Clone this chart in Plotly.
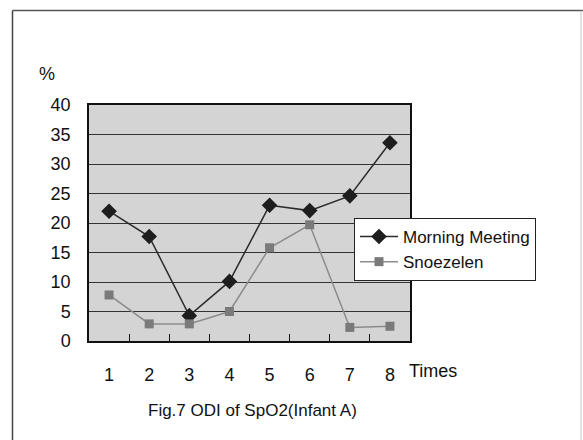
import plotly.graph_objects as go

times = [1, 2, 3, 4, 5, 6, 7, 8]
morning_meeting = [22.0, 17.7, 4.3, 10.1, 23.0, 22.1, 24.6, 33.6]
snoezelen = [7.8, 2.9, 2.9, 5.0, 15.8, 19.7, 2.3, 2.5]
y_ticks = [0, 5, 10, 15, 20, 25, 30, 35, 40]

FONT = "Liberation Sans, Arial, sans-serif"
W, H = 583, 440
ML, MT, MB = 89, 105, 99
PW = W - ML            # paper width in px
PH = H - MT - MB       # paper height in px
PLOT_RIGHT = 410       # right edge of the plotting area in px


def px(xp):
    return (xp - ML) / PW


def py(yp):
    return (H - MB - yp) / PH


fig = go.Figure()
fig.add_trace(go.Scatter(
    x=times, y=morning_meeting, name="Morning Meeting", mode="lines+markers",
    line=dict(color="#2b2b2b", width=1.5),
    marker=dict(symbol="diamond", size=12, color="#1e1e1e"),
))
fig.add_trace(go.Scatter(
    x=times, y=snoezelen, name="Snoezelen", mode="lines+markers",
    line=dict(color="#8c8c8c", width=1.5),
    marker=dict(symbol="square", size=9, color="#7a7a7a"),
))
# invisible trace carrying the category-boundary tick marks
fig.add_trace(go.Scatter(x=[1.5], y=[None], xaxis="x2", showlegend=False, hoverinfo="skip"))

dom = [0, px(PLOT_RIGHT)]

fig.update_layout(
    width=W, height=H,
    margin=dict(l=ML, r=0, t=MT, b=MB),
    paper_bgcolor="white",
    plot_bgcolor="#d4d4d4",
    font=dict(family=FONT, size=18, color="#111"),
    showlegend=True,
    legend=dict(
        x=px(354), y=py(218), xanchor="left", yanchor="top",
        bgcolor="white", bordercolor="#222", borderwidth=1,
        font=dict(family=FONT, size=17, color="#111"),
        tracegroupgap=0, itemwidth=38,
    ),
    xaxis=dict(
        domain=dom, range=[0.5, 8.5], tickmode="array", tickvals=times,
        ticktext=[str(t) for t in times], ticks="", showgrid=False,
        zeroline=False, showline=True, linecolor="#111", linewidth=1.5,
        mirror=True, ticklabelstandoff=17,
    ),
    xaxis2=dict(
        domain=dom, range=[0.5, 8.5], overlaying="x", side="bottom", tickmode="array",
        tickvals=[1.5, 2.5, 3.5, 4.5, 5.5, 6.5, 7.5], ticks="inside",
        ticklen=7, tickwidth=1.2, tickcolor="#111", showticklabels=False,
        showgrid=False, zeroline=False, showline=False,
    ),
    yaxis=dict(
        range=[0, 40], tickmode="array", tickvals=y_ticks,
        showgrid=True, gridcolor="#333333", gridwidth=1,
        zeroline=False, showline=True, linecolor="#111", linewidth=1.5,
        mirror=True, ticks="", ticklabelstandoff=13,
    ),
    shapes=[
        dict(type="line", xref="paper", yref="paper",
             x0=px(12.5), x1=px(12.5), y0=py(440), y1=py(10.5),
             line=dict(color="#444", width=1.5)),
        dict(type="line", xref="paper", yref="paper",
             x0=px(12.5), x1=px(583), y0=py(10.5), y1=py(10.5),
             line=dict(color="#555", width=1.5)),
        dict(type="line", xref="paper", yref="paper",
             x0=px(581), x1=px(581), y0=py(440), y1=py(10.5),
             line=dict(color="#c4c4c4", width=1)),
    ],
    annotations=[
        dict(text="%", xref="paper", yref="paper", x=px(37), y=py(74),
             xanchor="left", yanchor="middle", showarrow=False,
             font=dict(family=FONT, size=18, color="#111")),
        dict(text="Times", xref="paper", yref="paper", x=px(407), y=py(371),
             xanchor="left", yanchor="middle", showarrow=False,
             font=dict(family=FONT, size=18, color="#111")),
        dict(text="Fig.7 ODI of SpO2(Infant A)", xref="paper", yref="paper",
             x=px(252), y=py(410),
             xanchor="center", yanchor="middle", showarrow=False,
             font=dict(family=FONT, size=17, color="#111")),
    ],
)

fig.write_html("out.html")
